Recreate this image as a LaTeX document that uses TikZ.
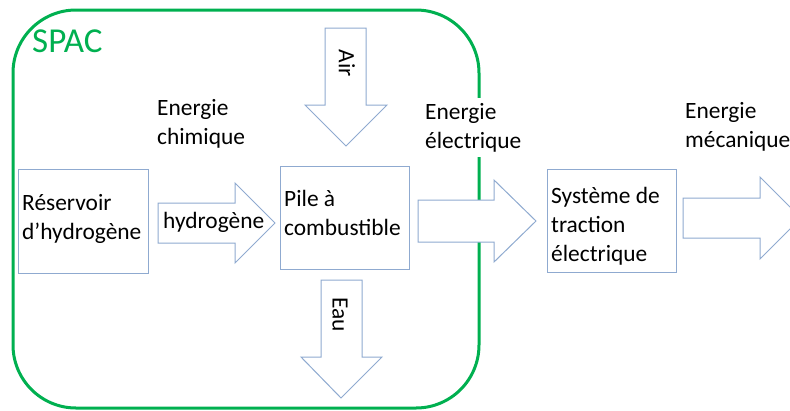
\documentclass[tikz,border=0pt]{standalone}
\usepackage{fontspec}
\setmainfont{Carlito}
\definecolor{spacgreen}{RGB}{0,176,80}
\definecolor{shapeline}{RGB}{143,170,208}
\begin{document}
\begin{tikzpicture}[x=1pt,y=-1pt,
  blk/.style={draw=shapeline,line width=1pt,fill=white},
  lbl/.style={inner sep=0pt,anchor=base west,align=left,font=\fontsize{23.4}{29}\selectfont},
  vlbl/.style={inner sep=0pt,rotate=-90,font=\fontsize{23.4}{29}\selectfont}]
\useasboundingbox (0,0) rectangle (790,410);
% SPAC boundary
\draw[spacgreen,line width=3pt,rounded corners=63pt] (13,10) rectangle (479,408);
\node[lbl,text=spacgreen,font=\fontsize{35}{40}\selectfont] (spac) at (32,52) {SPAC};
% boxes
\draw[blk] (18,169) rectangle (148,273);
\draw[blk] (280,166) rectangle (409,269);
\draw[blk] (547,169) rectangle (676,272);
% block arrows
\draw[blk] (158,203) -- (235,203) -- (235,183) -- (275,223) -- (235,263) -- (235,243) -- (158,243) -- cycle;
\draw[blk] (418,200) -- (494,200) -- (494,180) -- (536,221) -- (494,262) -- (494,242) -- (418,242) -- cycle;
\draw[blk] (683,198) -- (760,198) -- (760,177) -- (801,218) -- (760,259) -- (760,238) -- (683,238) -- cycle;
\draw[blk] (325,28) -- (366,28) -- (366,105) -- (387,105) -- (346,146) -- (305,105) -- (325,105) -- cycle;
\draw[blk] (321,280) -- (362,280) -- (362,357) -- (382,357) -- (341,398) -- (301,357) -- (321,357) -- cycle;
% texts
\node[lbl] (res) at (22,239) {Réservoir\\d’hydrogène};
\node[lbl] (h2) at (163,228) {hydrogène};
\node[lbl] (pile) at (284,235) {Pile à\\combustible};
\node[lbl] (sys) at (551,261) {Système de\\traction\\électrique};
\node[lbl] (echim) at (157,144) {Energie\\chimique};
\node[lbl,fill=white,inner xsep=2pt,inner ysep=5pt] (eelec) at (423,148) {Energie\\électrique};
\node[lbl] (emeca) at (685,147) {Energie\\mécanique};
\node[vlbl] (air) at (347,63) {Air};
\node[vlbl] (eau) at (340,315) {Eau};
\end{tikzpicture}
\end{document}
